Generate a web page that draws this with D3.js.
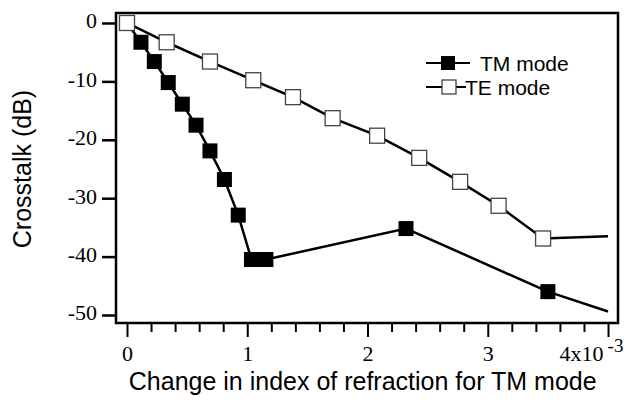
<!DOCTYPE html>
<html>
<head>
<meta charset="utf-8">
<script src="https://cdn.jsdelivr.net/npm/d3@7"></script>
<style>
  body { margin: 0; background: #fff; }
  svg { display: block; }
  .tl { font-family: 'Liberation Serif', 'Times New Roman', serif; font-size: 22px; }
</style>
</head>
<body>
<svg id="chart"></svg>
<script>
// TM mode (filled squares), x in units of 1e-3
const tmX = [0, 0.116, 0.227, 0.343, 0.46, 0.574, 0.69, 0.81, 0.925, 1.035, 1.155, 2.32, 3.50];
const tmY = [0, -3.3, -6.6, -10.2, -13.9, -17.5, -21.9, -26.8, -32.9, -40.5, -40.5, -35.2, -46.0];
const tmEnd = [4.0, -49.4];

// TE mode (open squares)
const teX = [0, 0.33, 0.69, 1.05, 1.38, 1.71, 2.08, 2.43, 2.77, 3.09, 3.46];
const teY = [0, -3.3, -6.6, -9.8, -12.7, -16.3, -19.3, -23.1, -27.2, -31.3, -36.9];
const teEnd = [4.0, -36.5];

const xTicks = [0, 1, 2, 3, 4];
const xMinorTicks = d3.range(0, 4.01, 0.2).filter(v => Math.abs(v - Math.round(v)) > 0.01);
const yTicks = [0, -10, -20, -30, -40, -50];

const width = 636, height = 403;
const margin = { top: 13, right: 18, bottom: 80, left: 116 };
const w = width - margin.left - margin.right;
const h = height - margin.top - margin.bottom;
const sans = "'Liberation Sans', Arial, sans-serif";

const svg = d3.select("#chart").attr("width", width).attr("height", height);
const g = svg.append("g").attr("transform", `translate(${margin.left},${margin.top})`);

const x = d3.scaleLinear().domain([-0.0915, 4.083]).range([0, w]);
const y = d3.scaleLinear().domain([-51.37, 1.71]).range([h, 0]);

// y axis
const yAxis = g.append("g")
  .call(d3.axisLeft(y).tickValues(yTicks).tickSize(14).tickPadding(5).tickFormat(d => String(d)));
yAxis.selectAll("line").attr("stroke-width", 2.5);
yAxis.selectAll("text")
  .attr("class", "tl")
  .attr("dy", "0.22em")
  .attr("fill", "#000");

// x axis major + minor
const xAxis = g.append("g")
  .attr("transform", `translate(0,${h})`)
  .call(d3.axisBottom(x).tickValues(xTicks).tickSize(14).tickPadding(8)
    .tickFormat(d => d === 4 ? "4x10" : String(d)));
xAxis.selectAll("line").attr("stroke-width", 2);
xAxis.selectAll("text")
  .attr("class", "tl")
  .attr("fill", "#000");
xAxis.selectAll(".tick").filter(d => d === 4).select("text")
  .attr("dx", -17)
  .append("tspan")
  .attr("dx", 4)
  .attr("dy", "-0.45em")
  .style("font-size", "19px")
  .text("-3");

const xMinor = g.append("g")
  .attr("transform", `translate(0,${h})`)
  .call(d3.axisBottom(x).tickValues(xMinorTicks).tickSize(9).tickFormat(""));
xMinor.selectAll("line").attr("stroke-width", 2);

g.selectAll(".domain").remove();

// frame
g.append("rect")
  .attr("x", 0).attr("y", 0)
  .attr("width", w).attr("height", h)
  .attr("fill", "none")
  .attr("stroke", "#000")
  .attr("stroke-width", 2.5);

const line = d3.line().x(d => x(d[0])).y(d => y(d[1]));
const sq = 15;

// TM series
const tmPts = tmX.map((v, i) => [v, tmY[i]]);
g.append("path")
  .datum(tmPts.concat([tmEnd]))
  .attr("d", line)
  .attr("fill", "none")
  .attr("stroke", "#000")
  .attr("stroke-width", 2.5);
g.selectAll(".tm")
  .data(tmPts.slice(1))
  .enter().append("rect")
  .attr("class", "tm")
  .attr("x", d => x(d[0]) - sq / 2)
  .attr("y", d => y(d[1]) - sq / 2)
  .attr("width", sq).attr("height", sq)
  .attr("fill", "#000");

// TE series
const tePts = teX.map((v, i) => [v, teY[i]]);
g.append("path")
  .datum(tePts.concat([teEnd]))
  .attr("d", line)
  .attr("fill", "none")
  .attr("stroke", "#000")
  .attr("stroke-width", 2.5);
g.selectAll(".te")
  .data(tePts)
  .enter().append("rect")
  .attr("class", "te")
  .attr("x", d => x(d[0]) - sq / 2)
  .attr("y", d => y(d[1]) - sq / 2)
  .attr("width", sq).attr("height", sq)
  .attr("fill", "#fff")
  .attr("stroke", "#444")
  .attr("stroke-width", 1.3);

// legend
const legend = svg.append("g").attr("font-family", sans).attr("font-size", 21);
legend.append("line").attr("x1", 426).attr("x2", 470).attr("y1", 63).attr("y2", 63)
  .attr("stroke", "#000").attr("stroke-width", 2);
legend.append("rect").attr("x", 441).attr("y", 56).attr("width", 14).attr("height", 14).attr("fill", "#000");
legend.append("text").attr("x", 480).attr("y", 70.5).text("TM mode");
legend.append("line").attr("x1", 426).attr("x2", 466).attr("y1", 87).attr("y2", 87)
  .attr("stroke", "#000").attr("stroke-width", 2);
legend.append("rect").attr("x", 442).attr("y", 80).attr("width", 14).attr("height", 14)
  .attr("fill", "#fff").attr("stroke", "#444").attr("stroke-width", 1.3);
legend.append("text").attr("x", 465).attr("y", 94.5).text("TE mode");

// axis titles
svg.append("text")
  .attr("x", margin.left + x(1.96))
  .attr("y", 390)
  .attr("text-anchor", "middle")
  .attr("font-family", sans)
  .attr("font-size", 25)
  .text("Change in index of refraction for TM mode");

svg.append("text")
  .attr("transform", "translate(31,169) rotate(-90)")
  .attr("text-anchor", "middle")
  .attr("font-family", sans)
  .attr("font-size", 25)
  .text("Crosstalk (dB)");
</script>
</body>
</html>
